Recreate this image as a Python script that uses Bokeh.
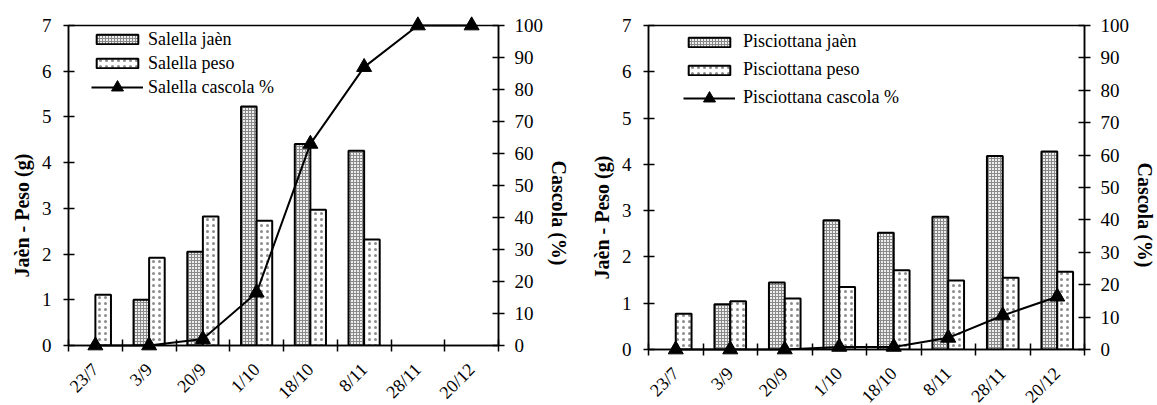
from bokeh.plotting import figure
from bokeh.layouts import row
from bokeh.models import Range1d, LinearAxis, FixedTicker, Legend, LegendItem
from bokeh.embed import file_html
from bokeh.resources import INLINE

# ---- data ----
dates = ["23/7", "3/9", "20/9", "1/10", "18/10", "8/11", "28/11", "20/12"]

salella_jaen = [None, 1.0, 2.05, 5.23, 4.41, 4.26, None, None]
salella_peso = [1.11, 1.92, 2.82, 2.73, 2.97, 2.32, None, None]
salella_cascola = [0, 0, 2, 16.5, 63, 87, 100, 100]

pisciottana_jaen = [None, 0.98, 1.45, 2.79, 2.52, 2.87, 4.18, 4.28]
pisciottana_peso = [0.77, 1.04, 1.1, 1.35, 1.71, 1.49, 1.55, 1.68]
pisciottana_cascola = [0, 0, 0, 0.8, 0.8, 3.6, 10.5, 16.3]

left_ticks = [0, 1, 2, 3, 4, 5, 6, 7]
right_ticks = [0, 10, 20, 30, 40, 50, 60, 70, 80, 90, 100]

FONT = "Liberation Serif"
NB = "\u00a0"


def style_axis(ax):
    ax.axis_line_color = "black"
    ax.axis_line_width = 1.5
    ax.major_tick_line_color = "black"
    ax.major_tick_line_width = 1.5
    ax.minor_tick_line_color = "black"
    ax.minor_tick_line_width = 1.5
    ax.major_label_text_font = FONT
    ax.major_label_text_font_size = "19px"
    ax.major_label_text_color = "black"
    ax.axis_label_text_font = FONT
    ax.axis_label_text_font_size = "20px"
    ax.axis_label_text_font_style = "bold"
    ax.axis_label_text_color = "black"


def style_legend(lg, standoff, glyph_h, row_h, spacing):
    lg.border_line_alpha = 0
    lg.background_fill_alpha = 0
    lg.label_text_font = FONT
    lg.label_text_font_size = "18px"
    lg.label_text_color = "black"
    lg.glyph_width = 52
    lg.glyph_height = glyph_h
    lg.label_height = row_h
    lg.spacing = spacing
    lg.padding = 0
    lg.margin = 0
    lg.label_standoff = standoff


def make_chart(name, jaen, peso, casc, fw, fh, bl, br, bt, bb,
               leg_x, row1_center, pitch, leg_standoff):
    n = len(dates)
    p = figure(frame_width=fw, frame_height=fh, output_backend="svg", toolbar_location=None,
               x_range=Range1d(0, n), y_range=Range1d(0, 7),
               min_border_left=bl, min_border_right=br,
               min_border_top=bt, min_border_bottom=bb)
    p.xgrid.visible = False
    p.ygrid.visible = False
    p.outline_line_color = "black"
    p.outline_line_width = 1.5
    p.background_fill_color = "white"
    p.border_fill_color = "white"
    p.extra_y_ranges = {"casc": Range1d(0, 100)}

    centers = [i + 0.5 for i in range(n)]
    bw = 0.29
    jx = [c - bw / 2 for c, v in zip(centers, jaen) if v is not None]
    jt = [v for v in jaen if v is not None]
    px = [c + bw / 2 for c, v in zip(centers, peso) if v is not None]
    pt = [v for v in peso if v is not None]

    r_j = p.vbar(x=jx, top=jt, width=bw, fill_color="#eeeeee", line_color="black",
                 line_width=2, hatch_pattern="cross", hatch_scale=3,
                 hatch_weight=1, hatch_color="#8a8a8a")
    r_p = p.vbar(x=px, top=pt, width=bw, fill_color="white", line_color="black",
                 line_width=2, hatch_pattern="dot", hatch_scale=6,
                 hatch_color="#8c8c8c")
    r_l = p.line(centers, casc, y_range_name="casc", line_color="black",
                 line_width=2, level="overlay")
    r_s = p.scatter(centers, casc, y_range_name="casc", marker="triangle", size=15,
                    fill_color="black", line_color="black", level="overlay")

    # x axis: labels centred in each category, ticks on category boundaries
    xa = p.xaxis[0]
    xa.ticker = FixedTicker(ticks=centers, minor_ticks=list(range(n + 1)))
    xa.major_label_overrides = {c: d for c, d in zip(centers, dates)}
    xa.major_label_orientation = 0.785398
    xa.major_tick_in = 0
    xa.major_tick_out = 0
    xa.minor_tick_in = 6
    xa.minor_tick_out = 6
    xa.major_label_standoff = 15
    style_axis(xa)
    xa.major_label_text_font_size = "18px"

    ya = p.yaxis[0]
    ya.ticker = FixedTicker(ticks=left_ticks)
    ya.major_tick_in = 6
    ya.major_tick_out = 5
    ya.major_label_standoff = 12
    ya.axis_label = "Jaèn - Peso (g)" + NB * 12
    ya.axis_label_standoff = 6
    style_axis(ya)

    ra = LinearAxis(y_range_name="casc", ticker=FixedTicker(ticks=right_ticks),
                    axis_label=NB * 11 + "Cascola (%)")
    ra.major_tick_in = 6
    ra.major_tick_out = 6
    ra.major_label_standoff = 10
    ra.axis_label_standoff = 2
    style_axis(ra)
    p.add_layout(ra, "right")

    # bar legend (two rows)
    bar_top = row1_center - pitch / 2
    lg1 = Legend(items=[
        LegendItem(label=name + " jaèn", renderers=[r_j]),
        LegendItem(label=name + " peso", renderers=[r_p]),
    ], location=(leg_x, fh - bar_top - 2 * pitch))
    style_legend(lg1, leg_standoff, 12, pitch, 0)
    p.add_layout(lg1)

    # line legend (third row), taller glyph so the triangle is visible
    row3 = row1_center + 2 * pitch
    lg2 = Legend(items=[
        LegendItem(label=name + " cascola %", renderers=[r_l, r_s]),
    ], location=(leg_x, fh - (row3 - 15) - 30))
    style_legend(lg2, leg_standoff, 30, 30, 0)
    p.add_layout(lg2)
    return p


p1 = make_chart("Salella", salella_jaen, salella_peso, salella_cascola,
                430, 320, 68, 80, 24, 61, 23, 14, 24, 5)
p2 = make_chart("Pisciottana", pisciottana_jaen, pisciottana_peso, pisciottana_cascola,
                436, 324, 70, 73, 25, 56, 35, 16.7, 28, 8)

layout = row(p1, p2)
open("out.html", "w").write(file_html(layout, INLINE))
